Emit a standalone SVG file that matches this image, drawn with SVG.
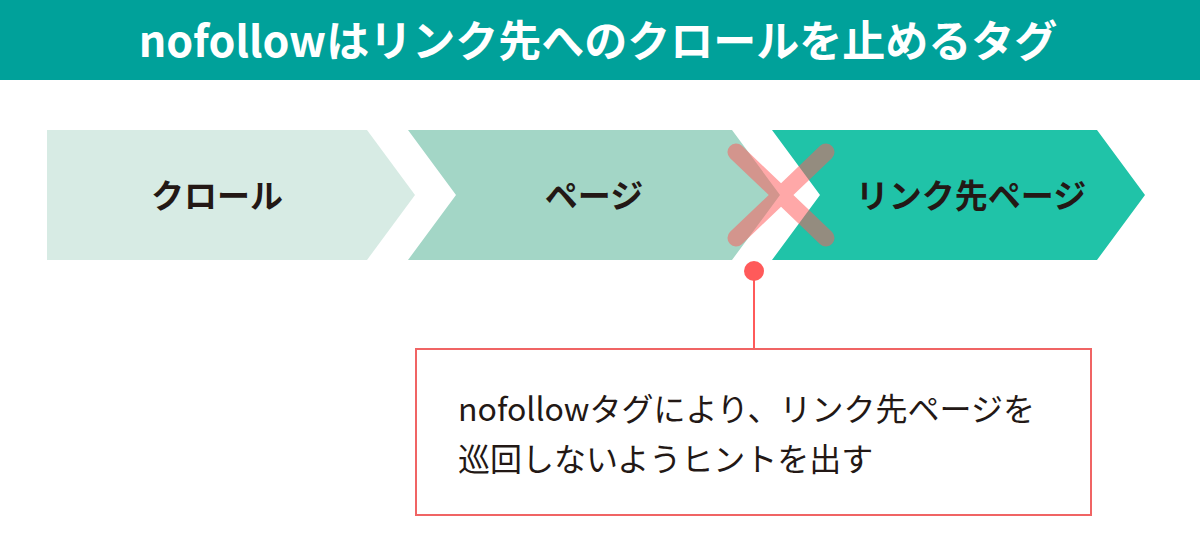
<svg xmlns="http://www.w3.org/2000/svg" width="1200" height="553" viewBox="0 0 1200 553">
<style>
.lbl{font-family:"Noto Sans CJK JP","Noto Sans",sans-serif;font-weight:bold;font-size:33px;fill:#231815;text-anchor:middle}
.body{font-family:"Noto Sans CJK JP","Noto Sans",sans-serif;font-size:32px;fill:#231815}
.x{stroke:#ff5a5a;stroke-width:17;stroke-linecap:round}
</style>
<rect width="1200" height="553" fill="#ffffff"/>
<g id="header">
<rect x="0" y="0" width="1200" height="80" fill="#00a19a"/>
<text x="598" y="57" text-anchor="middle" font-family="'Noto Sans CJK JP','Noto Sans',sans-serif" font-weight="bold" font-size="43" fill="#ffffff">nofollowはリンク先へのクロールを止めるタグ</text>
</g>
<g id="node-crawl">
<polygon points="47,130 367,130 415,195 367,260 47,260" fill="#d7ebe4"/>
<text class="lbl" x="217" y="208">クロール</text>
</g>
<g id="node-page">
<polygon points="408,130 732,130 780,195 732,260 408,260 456,195" fill="#a3d6c6"/>
<text class="lbl" x="594" y="208">ページ</text>
</g>
<g id="node-link">
<polygon points="772,130 1097,130 1145,195 1097,260 772,260 820,195" fill="#20c3a8"/>
<text class="lbl" x="971" y="208">リンク先ページ</text>
</g>
<g id="cross" opacity="0.52">
<line class="x" x1="736" y1="152" x2="826" y2="238"/>
<line class="x" x1="826" y1="152" x2="736" y2="238"/>
</g>
<g id="connectors">
<circle cx="754" cy="271" r="10" fill="#ff5a5a"/>
<line x1="754" y1="271" x2="754" y2="349" stroke="#ff5a5a" stroke-width="2"/>
</g>
<g id="note">
<rect x="416" y="349" width="675" height="166" fill="#ffffff" stroke="#f06464" stroke-width="2"/>
<text class="body" x="458" y="421">nofollowタグにより、リンク先ページを</text>
<text class="body" x="458" y="471">巡回しないようヒントを出す</text>
</g>
</svg>
